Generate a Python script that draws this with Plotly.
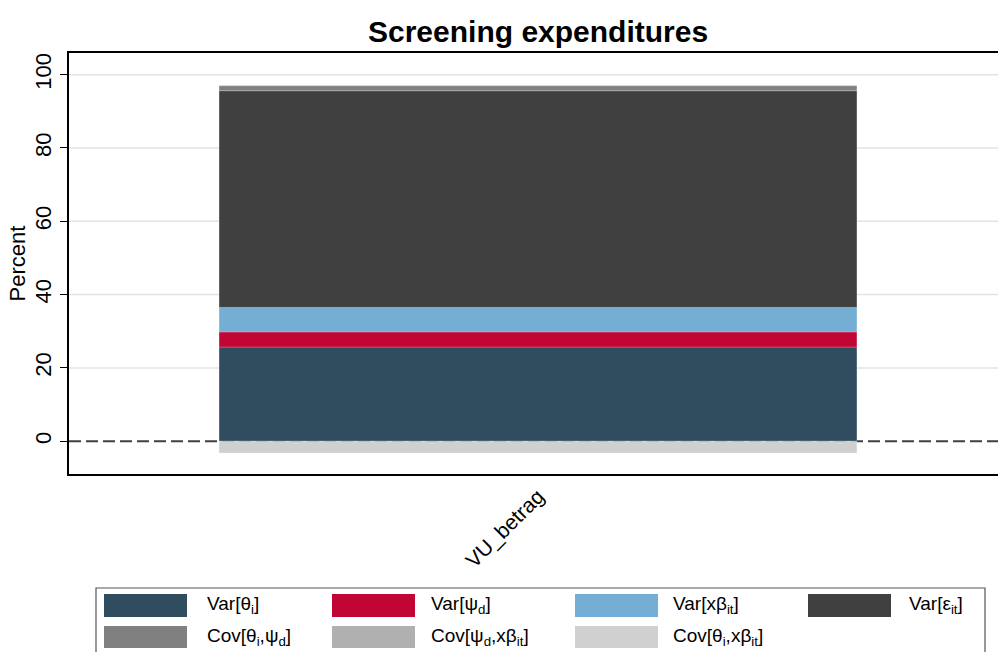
import plotly.graph_objects as go

# ---- data ----
categories = ["VU_betrag"]
series_names = [
    "Var[θ<sub>i</sub>]",
    "Var[ψ<sub>d</sub>]",
    "Var[xβ<sub>it</sub>]",
    "Var[ε<sub>it</sub>]",
    "Cov[θ<sub>i</sub>,ψ<sub>d</sub>]",
    "Cov[ψ<sub>d</sub>,xβ<sub>it</sub>]",
    "Cov[θ<sub>i</sub>,xβ<sub>it</sub>]",
]
var_theta = [25.7]
var_psi = [4.1]
var_xb = [6.7]
var_eps = [59.1]
cov_theta_psi = [1.4]
cov_psi_xb = [0.0]
cov_theta_xb = [-3.2]
series_values = [var_theta, var_psi, var_xb, var_eps, cov_theta_psi, cov_psi_xb, cov_theta_xb]
colors = ["#304D60", "#C10636", "#74AED5", "#404040", "#808080", "#B0B0B0", "#D0D0D0"]
y_ticks = [0, 20, 40, 60, 80, 100]

W, H = 998, 652
L, R, T, B = 69, 0, 53, 178
pw, ph = W - L - R, H - T - B


def px_x(x):
    return (x - L) / pw


def px_y(y):
    return (H - B - y) / ph


fig = go.Figure()
for name, vals, col in zip(series_names, series_values, colors):
    fig.add_trace(go.Bar(
        x=categories, y=vals, name=name, width=0.68,
        marker=dict(color=col, line=dict(width=0.6, color="rgba(255,255,255,0.35)")),
        showlegend=False,
    ))

font = "Liberation Sans, Arial, sans-serif"

shapes = []
# horizontal grid lines (non-zero ticks) and dashed zero reference line
for t in y_ticks:
    if t == 0:
        shapes.append(dict(type="line", xref="paper", yref="y", x0=0, x1=1, y0=t, y1=t,
                           line=dict(color="#404040", width=2, dash="12px,5px"), layer="below"))
    else:
        shapes.append(dict(type="line", xref="paper", yref="y", x0=0, x1=1, y0=t, y1=t,
                           line=dict(color="#E3E3E3", width=1.5), layer="below"))
shapes.append(dict(type="rect", xref="paper", yref="paper",
                   x0=px_x(96), x1=px_x(985), y0=px_y(588), y1=px_y(670),
                   line=dict(color="#555555", width=1.2), fillcolor="rgba(0,0,0,0)"))
annotations = []
col_sw = [104, 332, 575, 808]
col_tx = [206, 430, 672, 908]
rows = [(594, 617, 605), (626, 648, 637)]
for i, (name, col) in enumerate(zip(series_names, colors)):
    r, c = divmod(i, 4)
    y0, y1, yc = rows[r]
    shapes.append(dict(type="rect", xref="paper", yref="paper",
                       x0=px_x(col_sw[c]), x1=px_x(col_sw[c] + 83),
                       y0=px_y(y1), y1=px_y(y0),
                       line=dict(width=0), fillcolor=col))
    annotations.append(dict(xref="paper", yref="paper", x=px_x(col_tx[c] - 1), y=px_y(yc),
                            text=name, showarrow=False, xanchor="left", yanchor="middle",
                            font=dict(size=19, color="#000000", family=font)))

annotations.append(dict(xref="paper", yref="paper", x=px_x(537.5), y=px_y(31),
                        text="<b>Screening expenditures</b>", showarrow=False,
                        xanchor="center", yanchor="middle",
                        font=dict(size=30, color="#000000", family=font)))

fig.update_layout(
    width=W, height=H,
    margin=dict(l=L, r=R, t=T, b=B, pad=0),
    paper_bgcolor="white", plot_bgcolor="white",
    barmode="relative",
    font=dict(family=font, color="#000000", size=16),
    shapes=shapes, annotations=annotations,
    showlegend=False,
)
fig.update_xaxes(
    type="category", range=[-0.5, 0.4904],
    showline=True, linecolor="#000000", linewidth=1.6, mirror=True,
    ticks="", tickangle=-45, showgrid=False, zeroline=False,
    tickfont=dict(size=21, family=font), ticklabelstandoff=0,
)
fig.update_yaxes(
    range=[-8.95, 105.9], tickvals=y_ticks,
    showline=True, linecolor="#000000", linewidth=1.6, mirror=False,
    ticks="outside", ticklen=7, tickcolor="#000000", tickwidth=1.2,
    tickangle=-90, tickfont=dict(size=22, family=font),
    showgrid=False, zeroline=False,
    title=dict(text="Percent", font=dict(size=22, family=font), standoff=0),
)

fig.write_html("out.html", config={"displayModeBar": False},
               post_script="document.body.style.margin='0';document.body.style.overflow='hidden';")
